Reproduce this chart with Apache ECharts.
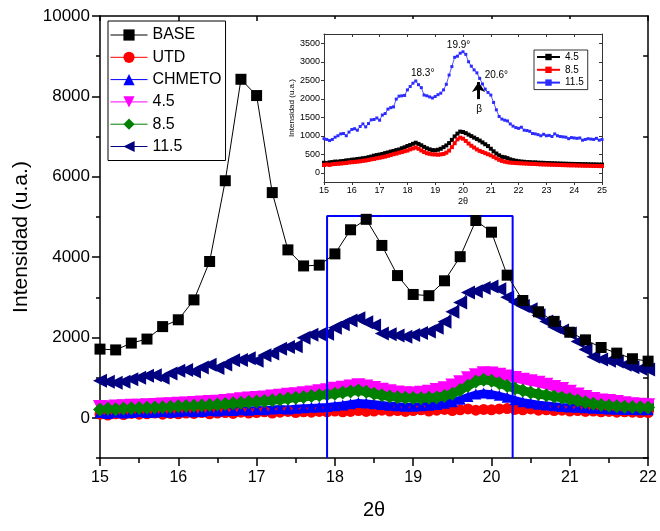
<!DOCTYPE html>
<html><head><meta charset="utf-8">
<script src="https://cdn.jsdelivr.net/npm/echarts@6/dist/echarts.min.js"></script>
<style>html,body{margin:0;padding:0;background:#fff}#c{width:660px;height:531px}</style>
</head><body><div id="c"></div>
<script>
// ---------- data ----------
const baseTheta = [15.0,15.2,15.4,15.6,15.8,16.0,16.2,16.4,16.6,16.8,17.0,17.2,17.4,17.6,17.8,18.0,18.2,18.4,18.6,18.8,19.0,19.2,19.4,19.6,19.8,20.0,20.2,20.4,20.6,20.8,21.0,21.2,21.4,21.6,21.8,22.0];
const baseVals = [1710,1690,1860,1960,2270,2440,2935,3890,5900,8425,8020,5605,4180,3780,3800,4080,4680,4940,4290,3540,3070,3040,3410,4010,4910,4620,3550,2920,2640,2400,2130,1940,1750,1610,1470,1410];

// 15.0 .. 22.0 every 0.1
const utdVals = [90,70,100,80,110,90,100,120,90,110, 100,120,110,130,100,120,130,110,140,120, 130,150,120,140,160,130,150,140,160,150, 170,150,160,180,160,170,190,170,180,160, 180,200,170,190,210,180,200,220,190,210, 200,220,230,210,200,220,190,200,180,190, 170,180,160,170,150,160,140,150,140,130, 130];
const chmetoVals = [130,110,140,120,130,150,130,140,160,140, 150,170,150,160,180,170,190,180,200,190, 210,200,220,230,220,240,250,260,270,280, 300,320,350,380,370,350,330,310,300,290, 290,300,310,330,360,400,460,530,590,620, 600,560,510,450,400,370,340,320,300,280, 270,260,250,240,230,220,215,210,205,200, 200];
// 15.0 .. 25.0 every 0.1
const s45Vals = [270,262,281,288,302,298,312,318,333,338, 352,358,371,379,392,401,421,438,462,478, 492,508,531,548,572,588,612,628,662,688, 722,748,782,812,778,742,698,662,632,612, 608,622,648,692,738,802,888,982,1058,1112, 1100,1070,1030,990,950,910,870,820,770,720, 650,580,520,470,430,418,395,362,340,325, 312,302,296,288,286,279,281,272,270,268, 264,262,258,255,251,249,246,244,241,240, 238,236,235,232,231,229,227,226,224,222, 220];
const s85Vals = [210,225,212,232,236,244,249,258,263,278, 285,292,301,309,322,331,344,362,373,392, 405,421,438,457,478,502,518,541,559,582, 600,632,658,682,648,602,561,528,512,498, 495,488,497,508,542,598,692,798,902,948, 920,860,790,730,680,630,590,560,530,500, 470,430,390,350,320,300,285,275,268,262, 258,254,251,246,241,239,236,231,226,224, 221,219,216,214,211,209,206,204,201,199, 200,196,194,191,189,190,186,184,183,180, 180];
const s115Vals = [920,900,870,900,960,1000,1050,1060,1000,1100, 1170,1190,1150,1250,1320,1240,1330,1430,1440,1480, 1420,1560,1600,1720,1760,1780,1990,2070,2080,2090, 2240,2330,2420,2480,2380,2300,2100,2080,2050,2020, 2060,2110,2150,2240,2390,2640,2870,3120,3150,3230, 3270,3200,3000,2880,2780,2700,2550,2400,2260,2170, 2100,1900,1700,1520,1450,1420,1400,1320,1260,1220, 1200,1230,1150,1140,1120,1060,1050,1030,1000,1040, 1000,1010,980,1050,1000,980,970,960,920,950, 940,930,940,880,900,920,910,900,930,880, 900];

const mainNames = ['BASE','UTD','CHMETO','4.5','8.5','11.5'];
const insetNames = ['4.5','8.5','11.5'];
const yTicks = [0,2000,4000,6000,8000,10000];
const yMinor = [-1000,1000,3000,5000,7000,9000];
const insetYTicks = [0,500,1000,1500,2000,2500,3000,3500];
const boxX = [17.9, 20.27];
const boxTop = 5020;
const peaks = [{t:'18.3°', x:18.55, y:2690},{t:'19.9°', x:19.84, y:3454},{t:'20.6°', x:21.2, y:2647},{t:'β', x:20.58, y:1720}];
const arrowX = 20.56, arrowY = [1990, 2450];

// ---------- helpers ----------
function grid01(n){ const a=[]; for(let i=0;i<n;i++) a.push(Math.round((15+i*0.1)*10)/10); return a; }
function pairs(xs, ys){ return ys.map((v,i)=>[xs[i], v]); }
const th = grid01(101);
const plain = v => String(v);

const FONT = 'Liberation Sans, Arial, sans-serif';
const txt = {fontFamily: FONT, color:'#000'};

const chart = echarts.init(document.getElementById('c'), null, {renderer:'canvas'});

function mainSeries(name, data, color, symbol, size, rot, z, lw){
  return {name, type:'line', xAxisIndex:0, yAxisIndex:0, data, symbol, symbolSize:size, symbolRotate:rot||0,
    itemStyle:{color}, lineStyle:{color, width:lw||1}, showSymbol:true, z:z||2, clip:true, animation:false};
}
function insetSeries(label, data, color, size, lw){
  return {name:'i'+label, type:'line', xAxisIndex:2, yAxisIndex:3, data, symbol:'rect', symbolSize:size,
    itemStyle:{color}, lineStyle:{color, width:lw}, z:70, clip:true, animation:false};
}

const option = {
  backgroundColor:'#fff',
  animation:false,
  textStyle:{fontFamily:FONT},
  grid:[
    {left:100, top:16, width:551, height:442},
    {left:324, top:34, width:278, height:148}
  ],
  xAxis:[
    {gridIndex:0, type:'value', min:15, max:22, interval:1, position:'bottom',
      axisLine:{show:true, onZero:false, lineStyle:{color:'#000', width:1.5}},
      axisTick:{show:true, inside:false, length:8, lineStyle:{color:'#000', width:1.5}},
      minorTick:{show:true, splitNumber:2, length:5, lineStyle:{color:'#000', width:1.5}},
      axisLabel:{...txt, fontSize:16, margin:12, formatter:plain},
      splitLine:{show:false},
      name:'2θ', nameLocation:'middle', nameGap:42, nameTextStyle:{...txt, fontSize:20}},
    {gridIndex:0, type:'value', min:15, max:22, interval:1, position:'top',
      axisLine:{show:true, onZero:false, lineStyle:{color:'#000', width:1.5}},
      axisTick:{show:true, inside:true, length:5, lineStyle:{color:'#000', width:1.5}},
      axisLabel:{show:false}, splitLine:{show:false}},
    {gridIndex:1, type:'value', min:15, max:25, interval:1, position:'bottom', z:60,
      axisLine:{show:true, onZero:false, lineStyle:{color:'#333', width:1}},
      axisTick:{show:true, inside:false, length:3, lineStyle:{color:'#333', width:1}},
      axisLabel:{...txt, fontSize:9, margin:4, formatter:plain},
      splitLine:{show:false},
      name:'2θ', nameLocation:'middle', nameGap:15, nameTextStyle:{...txt, fontSize:9}},
    {gridIndex:1, type:'value', min:15, max:25, interval:1, position:'top', z:60,
      axisLine:{show:true, onZero:false, lineStyle:{color:'#333', width:1}},
      axisTick:{show:true, inside:true, length:3, lineStyle:{color:'#333', width:1}},
      axisLabel:{show:false}, splitLine:{show:false}}
  ],
  yAxis:[
    {gridIndex:0, type:'value', min:-1000, max:10000, position:'left',
      axisLine:{show:true, onZero:false, lineStyle:{color:'#000', width:1.5}},
      axisTick:{show:true, inside:false, length:8, customValues:yTicks, lineStyle:{color:'#000', width:1.5}},
      axisLabel:{...txt, fontSize:17, margin:10, customValues:yTicks, formatter:plain},
      splitLine:{show:false},
      name:'Intensidad (u.a.)', nameLocation:'middle', nameGap:66, nameTextStyle:{...txt, fontSize:21}},
    {gridIndex:0, type:'value', min:-1000, max:10000, position:'left',
      axisLine:{show:false},
      axisTick:{show:true, inside:false, length:4, customValues:yMinor, lineStyle:{color:'#000', width:1.5}},
      axisLabel:{show:false}, splitLine:{show:false}},
    {gridIndex:0, type:'value', min:-1000, max:10000, position:'right',
      axisLine:{show:true, onZero:false, lineStyle:{color:'#000', width:1.5}},
      axisTick:{show:true, inside:true, length:5, customValues:yMinor, lineStyle:{color:'#000', width:1.5}},
      axisLabel:{show:false}, splitLine:{show:false}},
    {gridIndex:1, type:'value', min:-250, max:3750, position:'left', z:60,
      axisLine:{show:true, onZero:false, lineStyle:{color:'#333', width:1}},
      axisTick:{show:true, inside:false, length:3, customValues:insetYTicks, lineStyle:{color:'#333', width:1}},
      axisLabel:{...txt, fontSize:9, margin:4, customValues:insetYTicks, formatter:plain},
      splitLine:{show:false},
      name:'Intensidad (u.a.)', nameLocation:'middle', nameGap:27, nameTextStyle:{...txt, fontSize:8}},
    {gridIndex:1, type:'value', min:-250, max:3750, position:'right', z:60,
      axisLine:{show:true, onZero:false, lineStyle:{color:'#333', width:1}},
      axisTick:{show:true, inside:true, length:3, customValues:insetYTicks, lineStyle:{color:'#333', width:1}},
      axisLabel:{show:false}, splitLine:{show:false}}
  ],
  legend:[
    {data:mainNames, orient:'vertical', left:108, top:21, itemWidth:37, itemHeight:14, itemGap:6.3,
      padding:[6,4,6,2], borderColor:'#000', borderWidth:1, backgroundColor:'#fff',
      lineStyle:{width:1}, textStyle:{...txt, fontSize:16}, selectedMode:false},
    {data:insetNames.map(n=>'i'+n), orient:'vertical', left:534, top:50, itemWidth:23, itemHeight:8, itemGap:2.8,
      padding:[2,4,2,2], borderColor:'#000', borderWidth:0.8, backgroundColor:'#fff', z:80,
      formatter:n=>n.slice(1), textStyle:{...txt, fontSize:10}, selectedMode:false}
  ],
  graphic:[
    {type:'rect', shape:{x:282, y:19, width:326, height:193}, style:{fill:'#fff'}, z:50, silent:true}
  ],
  series:[
    mainSeries('UTD', pairs(th, utdVals), '#ff0000', 'circle', 11, 0, 2, 7),
    mainSeries('CHMETO', pairs(th, chmetoVals), '#0000ff', 'triangle', 11, 0, 2, 7),
    mainSeries('4.5', pairs(th, s45Vals), '#ff00ff', 'triangle', 14, 180, 2, 9),
    mainSeries('8.5', pairs(th, s85Vals), '#008000', 'diamond', 14, 0, 2, 9),
    mainSeries('11.5', pairs(th, s115Vals), '#000080', 'triangle', 14, 90, 3, 1),
    {name:'box', type:'line', xAxisIndex:0, yAxisIndex:0, symbol:'none', z:4,
      data:[[boxX[0],-1000],[boxX[0],boxTop],[boxX[1],boxTop],[boxX[1],-1000]],
      lineStyle:{color:'#0000ff', width:2}, clip:true, animation:false},
    mainSeries('BASE', pairs(baseTheta, baseVals), '#000000', 'rect', 11, 0, 5, 1),
    insetSeries('4.5', pairs(th, s45Vals), '#000000', 4, 1.5),
    insetSeries('8.5', pairs(th, s85Vals), '#ff0000', 4, 1.5),
    Object.assign(insetSeries('11.5', pairs(th, s115Vals), '#2b2bff', 3, 0.8), {
      markPoint:{z:75, symbol:'circle', symbolSize:0, silent:true, animation:false,
        label:{show:true, position:'inside', formatter:p=>p.name, ...txt, fontSize:10},
        data:peaks.map(p=>({name:p.t, coord:[p.x,p.y]}))},
      markLine:{z:75, silent:true, animation:false, symbol:['none','arrow'], symbolSize:10,
        label:{show:false}, lineStyle:{color:'#000', width:3, type:'solid'},
        data:[[{coord:[arrowX, arrowY[0]]},{coord:[arrowX, arrowY[1]]}]]}
    })
  ]
};
chart.setOption(option);
</script>
</body></html>
